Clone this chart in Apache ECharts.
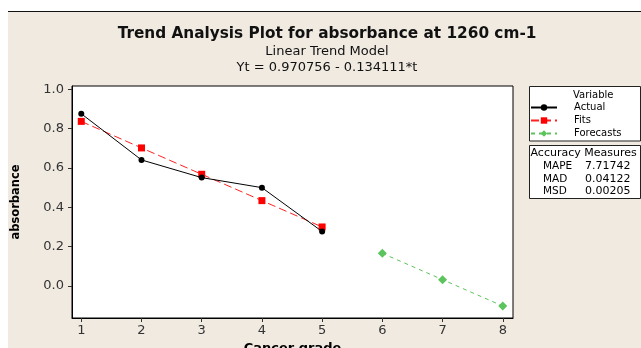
<!DOCTYPE html>
<html>
<head>
<meta charset="utf-8">
<script src="https://cdn.jsdelivr.net/npm/echarts@6/dist/echarts.min.js"></script>
<style>
html,body{margin:0;padding:0;background:#fff;}
#bg{position:absolute;left:8px;top:11px;width:633px;height:336px;background:#F0EAE1;border-top:1px solid #111;}
#chart{position:absolute;left:0;top:0;width:641px;height:348px;}
</style>
</head>
<body>
<div id="bg"></div>
<div id="chart"></div>
<script>
const grades = [1, 2, 3, 4, 5];
const actual = [0.876, 0.641, 0.551, 0.500, 0.277];
const fits = [0.837, 0.702, 0.568, 0.434, 0.300];
const forecastGrades = [6, 7, 8];
const forecasts = [0.166, 0.032, -0.102];
const xTicks = [1, 2, 3, 4, 5, 6, 7, 8];
const yTicks = [0.0, 0.2, 0.4, 0.6, 0.8, 1.0];
const accuracyNames = ['MAPE', 'MAD', 'MSD'];
const accuracyValues = ['7.71742', '0.04122', '0.00205'];

const FONT = 'DejaVu Sans';
const chart = echarts.init(document.getElementById('chart'), null, {renderer: 'canvas'});

const graphics = [
  {type: 'rect', shape: {x: 529.5, y: 86.5, width: 111, height: 54.5}, style: {fill: '#fff', stroke: '#222', lineWidth: 1}},
  {type: 'text', x: 573, y: 95, style: {text: 'Variable', font: '10px ' + FONT, fill: '#000', verticalAlign: 'middle'}},
  {type: 'rect', shape: {x: 529.5, y: 145.5, width: 111, height: 53}, style: {fill: '#fff', stroke: '#222', lineWidth: 1}},
  {type: 'text', x: 530.5, y: 153, style: {text: 'Accuracy Measures', font: '11px ' + FONT, fill: '#000', verticalAlign: 'middle'}}
];
accuracyNames.forEach((n, i) => {
  graphics.push({type: 'text', x: 543, y: 166.5 + i * 12.5, style: {text: n, font: '10.5px ' + FONT, fill: '#000', verticalAlign: 'middle'}});
  graphics.push({type: 'text', x: 585, y: 166.5 + i * 12.5, style: {text: accuracyValues[i], font: '11px ' + FONT, fill: '#000', verticalAlign: 'middle'}});
});

const option = {
  animation: false,
  backgroundColor: 'transparent',
  title: [
    {text: 'Trend Analysis Plot for absorbance at 1260 cm-1', left: 327, top: 27, textAlign: 'center', padding: 0,
     textStyle: {fontFamily: FONT, fontSize: 15.3, fontWeight: 'bold', color: '#111'}},
    {text: 'Linear Trend Model', left: 327, top: 45, textAlign: 'center', padding: 0,
     textStyle: {fontFamily: FONT, fontSize: 13, fontWeight: 'normal', color: '#111'}},
    {text: 'Yt = 0.970756 - 0.134111*t', left: 327, top: 61, textAlign: 'center', padding: 0,
     textStyle: {fontFamily: FONT, fontSize: 13, fontWeight: 'normal', color: '#111'}}
  ],
  graphic: graphics,
  legend: {
    data: ['Actual', 'Fits', 'Forecasts'],
    orient: 'vertical',
    left: 530, top: 102.5,
    padding: 0,
    itemWidth: 26, itemHeight: 8, itemGap: 3,
    textStyle: {fontFamily: FONT, fontSize: 10, color: '#000', padding: [0, 0, 0, 12]}
  },
  grid: {left: 72, top: 86, width: 441, height: 232, show: true, backgroundColor: '#fff', borderColor: '#000', borderWidth: 1,
         containLabel: false, outerBoundsMode: 'none'},
  xAxis: {
    type: 'value', min: 0.846, max: 8.17,
    name: 'Cancer grade', nameLocation: 'middle', nameGap: 21,
    nameTextStyle: {fontFamily: FONT, fontSize: 13, fontWeight: 'bold', color: '#000'},
    axisLine: {show: true, onZero: false, lineStyle: {color: '#000', width: 1}},
    axisTick: {show: true, customValues: xTicks, length: 4, lineStyle: {color: '#333'}},
    axisLabel: {customValues: xTicks, fontFamily: FONT, fontSize: 13, color: '#333', margin: 6},
    splitLine: {show: false}
  },
  yAxis: {
    type: 'value', min: -0.163, max: 1.017,
    name: 'absorbance', nameLocation: 'middle', nameGap: 50,
    nameTextStyle: {fontFamily: FONT, fontSize: 11.5, fontWeight: 'bold', color: '#000'},
    axisLine: {show: true, onZero: false, lineStyle: {color: '#000', width: 1}},
    axisTick: {show: true, customValues: yTicks, length: 4, lineStyle: {color: '#333'}},
    axisLabel: {customValues: yTicks, fontFamily: FONT, fontSize: 13, color: '#333', margin: 8,
                formatter: v => Number(v).toFixed(1)},
    splitLine: {show: false}
  },
  series: [
    {name: 'Actual', type: 'line', data: grades.map((g, i) => [g, actual[i]]),
     color: '#000', lineStyle: {width: 1, color: '#000'}, symbol: 'circle', symbolSize: 6,
     itemStyle: {color: '#000'}, z: 4},
    {name: 'Fits', type: 'line', data: grades.map((g, i) => [g, fits[i]]),
     color: '#FF0000', lineStyle: {width: 1, type: [8, 4], color: '#FF2020'}, symbol: 'rect', symbolSize: 7,
     itemStyle: {color: '#FF0000'}, z: 3},
    {name: 'Forecasts', type: 'line', data: forecastGrades.map((g, i) => [g, forecasts[i]]),
     color: '#5CC45C', lineStyle: {width: 1, type: [4, 4], color: '#5CC45C'}, symbol: 'diamond', symbolSize: 9,
     itemStyle: {color: '#5CC45C'}, z: 3}
  ]
};
chart.setOption(option);
</script>
</body>
</html>
